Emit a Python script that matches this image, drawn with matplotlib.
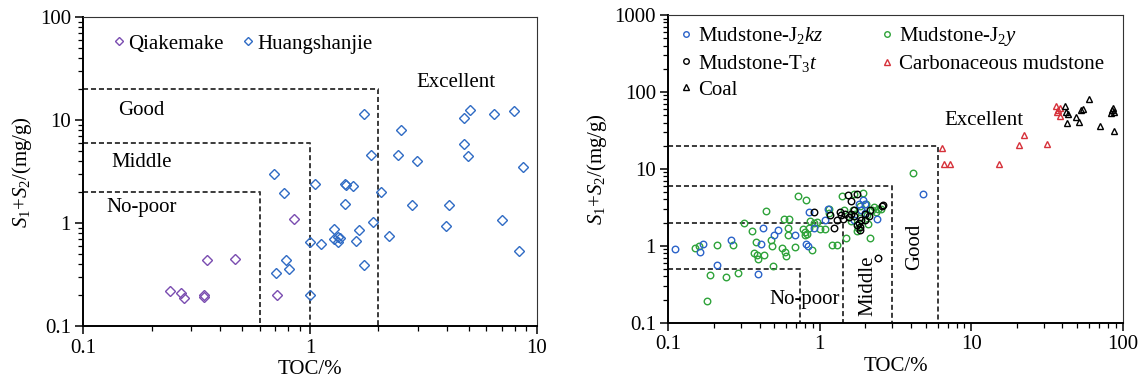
import numpy as np
import matplotlib
matplotlib.use('Agg')
import matplotlib.pyplot as plt
from matplotlib.ticker import LogLocator, FixedLocator, FixedFormatter, NullFormatter

plt.rcParams['font.family'] = ['Liberation Serif', 'DejaVu Serif']
plt.rcParams['mathtext.fontset'] = 'custom'
plt.rcParams['mathtext.rm'] = 'Liberation Serif'
plt.rcParams['mathtext.it'] = 'Liberation Serif:italic'

# ---- left panel data (TOC %, S1+S2 mg/g)
qiak_toc = [0.242, 0.27, 0.279, 0.34, 0.34, 0.351, 0.469, 0.714, 0.853]
qiak_s = [0.218, 0.208, 0.187, 0.2, 0.19, 0.435, 0.452, 0.2, 1.09]

huang_toc = [0.692, 0.771, 0.708, 0.787, 0.81, 1.0, 1.0, 1.05, 1.12, 1.28, 1.28, 1.33, 1.35,
             1.33, 1.42, 1.44, 1.55, 1.43, 1.60, 1.64, 1.73, 1.73, 1.86, 1.89, 2.06, 2.22,
             2.45, 2.53, 2.82, 2.96, 3.97, 4.1, 4.76, 4.78, 5.08, 4.99, 6.47, 7.03, 7.92, 8.32, 8.74]
huang_s = [2.99, 1.97, 0.328, 0.435, 0.358, 0.652, 0.2, 2.39, 0.633, 0.884, 0.706, 0.734, 0.72,
           0.652, 2.39, 2.34, 2.29, 1.55, 0.676, 0.865, 0.394, 11.5, 4.54, 1.03, 2.02, 0.756,
           4.57, 8.07, 1.5, 3.97, 0.946, 1.51, 5.89, 10.6, 12.5, 4.48, 11.4, 1.08, 12.2, 0.537, 3.52]

# ---- right panel data
j2kz_toc = [0.11, 0.161, 0.17, 0.21, 0.26, 0.39, 0.41, 0.42, 0.50, 0.53, 0.69, 0.81, 0.83, 0.855,
            0.92, 1.08, 1.14, 1.82, 1.92, 2.0, 1.87, 2.39, 4.82, 1.67, 1.98]
j2kz_s = [0.92, 0.83, 1.05, 0.56, 1.2, 0.435, 1.07, 1.71, 1.37, 1.62, 1.40, 1.05, 1.0, 2.79,
          1.72, 2.14, 3.0, 3.47, 3.9, 3.47, 2.9, 2.26, 4.68, 2.14, 2.63]

j2y_toc = [0.149, 0.160, 0.209, 0.179, 0.189, 0.24, 0.269, 0.289, 0.318, 0.358, 0.378, 0.367,
           0.385, 0.39, 0.43, 0.44, 0.49, 0.479, 0.483, 0.566, 0.578, 0.586, 0.595, 0.617, 0.617,
           0.63, 0.687, 0.72, 0.81, 0.776, 0.796, 0.796, 0.824, 0.845, 0.859, 0.889, 0.917, 0.959,
           1.01, 1.08, 1.15, 1.155, 1.21, 1.3, 1.41, 1.45, 1.49, 1.68, 1.92, 1.83, 2.02, 2.08,
           2.15, 2.28, 2.34, 2.42, 2.52, 4.13, 1.55, 1.7, 1.75, 1.8, 2.2, 1.6, 1.85, 2.05, 1.65]
j2y_s = [0.946, 0.985, 1.035, 0.19, 0.42, 0.39, 1.035, 0.44, 1.98, 1.56, 1.11, 0.81,
         0.75, 0.68, 0.75, 2.81, 0.54, 1.2, 0.985, 0.94, 2.21, 0.83, 0.73, 1.72, 1.40,
         2.21, 0.966, 4.45, 3.99, 1.67, 1.51, 1.37, 1.44, 1.72, 2.1, 0.87, 1.95, 2.04,
         1.67, 1.67, 3.05, 2.7, 1.03, 1.03, 4.45, 2.92, 1.28, 4.68, 4.87, 3.27, 3.54, 1.9,
         1.25, 3.2, 2.75, 3.01, 3.05, 8.87, 2.4, 2.6, 1.55, 1.7, 2.9, 2.1, 2.3, 2.5, 2.9]

t3t_toc = [0.92, 1.24, 1.16, 1.36, 1.38, 1.53, 1.77, 1.6, 1.3, 1.42, 1.55, 1.67, 1.82, 1.85,
           1.83, 1.75, 1.98, 2.1, 2.15, 2.57, 2.6, 2.43, 1.67, 1.46, 1.6, 1.98, 1.87]
t3t_s = [2.79, 1.69, 2.49, 2.79, 2.55, 4.64, 4.78, 3.8, 2.15, 2.25, 2.4, 2.47, 2.0, 1.77,
         1.6, 1.87, 2.14, 2.41, 2.91, 3.3, 3.4, 0.7, 2.96, 2.6, 2.6, 2.6, 2.15]

carb_toc = [6.4, 6.6, 7.2, 15.2, 20.6, 22.2, 31.6, 36.5, 37.3, 38.6, 37.0, 38.8]
carb_s = [18.8, 11.7, 11.5, 11.5, 20.3, 27.4, 20.9, 65.5, 59, 48.5, 55, 61]

coal_toc = [41.6, 42.3, 43.2, 42.8, 49.3, 51.3, 53.2, 55, 59.4, 71.2, 83.9, 85.2, 86.3, 87.2, 87.5]
coal_s = [65.5, 55.2, 51.4, 39.7, 46.6, 40.9, 58, 60.6, 80.7, 36.3, 52.5, 58, 61.2, 31.3, 55]

# grade boundaries (TOC limit, S1+S2 limit)
left_grades_toc = [0.6, 1.0, 2.0]
left_grades_s = [2, 6, 20]
right_grades_toc = [0.74, 1.43, 3.0, 6.0]
right_grades_s = [0.5, 2, 6, 20]

FS = 15
dash_kw = dict(color='#3a3a3a', lw=1.4, ls=(0, (2.6, 1.5)))


def style_axes(ax, xmax, ymax):
    ax.set_xscale('log')
    ax.set_yscale('log')
    ax.set_xlim(0.1, xmax)
    ax.set_ylim(0.1, ymax)
    xt = [10.0 ** k for k in range(-1, int(np.log10(xmax)) + 1)]
    yt = [10.0 ** k for k in range(-1, int(np.log10(ymax)) + 1)]
    ax.xaxis.set_major_locator(FixedLocator(xt))
    ax.xaxis.set_major_formatter(FixedFormatter([('%g' % v) for v in xt]))
    ax.yaxis.set_major_locator(FixedLocator(yt))
    ax.yaxis.set_major_formatter(FixedFormatter([('%g' % v) for v in yt]))
    for a in (ax.xaxis, ax.yaxis):
        a.set_minor_locator(LogLocator(base=10, subs=np.arange(2, 10)))
        a.set_minor_formatter(NullFormatter())
    ax.tick_params(which='major', direction='out', length=6, width=1.1, labelsize=FS, pad=3)
    ax.tick_params(which='minor', direction='out', length=3.5, width=0.9)
    ax.spines['left'].set_linewidth(1.4)
    ax.spines['bottom'].set_linewidth(1.4)
    for s in ('top', 'right'):
        ax.spines[s].set_linewidth(0.8)
        ax.spines[s].set_color('#333333')
    ax.set_xlabel('TOC/%', fontsize=FS, labelpad=2)
    ax.set_ylabel('$S_1$+$S_2$/(mg/g)', fontsize=FS, labelpad=4)


fig = plt.figure(figsize=(11.43, 3.83), dpi=100)
ax1 = fig.add_axes([0.0729, 0.1488, 0.3967, 0.806])
ax2 = fig.add_axes([0.5847, 0.1574, 0.3976, 0.8034])

# ---------- left
style_axes(ax1, 10, 100)
for t, s in zip(left_grades_toc, left_grades_s):
    ax1.plot([0.1, t, t], [s, s, 0.1], **dash_kw)
mk = dict(ls='none', marker='D', ms=5.0, mfc='none', mew=1.0)
ax1.plot(qiak_toc, qiak_s, color='#7a4cb0', label='Qiakemake', **mk)
ax1.plot(huang_toc, huang_s, color='#2f6bc4', label='Huangshanjie', **mk)
ax1.text(0.18, 12.4, 'Good', fontsize=FS, ha='center', va='center')
ax1.text(0.18, 3.88, 'Middle', fontsize=FS, ha='center', va='center')
ax1.text(0.18, 1.42, 'No-poor', fontsize=FS, ha='center', va='center')
ax1.text(4.4, 23.5, 'Excellent', fontsize=FS, ha='center', va='center')
ax1.legend(loc='center left', bbox_to_anchor=(0.064, 0.914), ncol=2, frameon=False,
           fontsize=FS, borderpad=0, borderaxespad=0, handlelength=0.6,
           handletextpad=0.15, columnspacing=0.9, markerscale=0.8)

# ---------- right
style_axes(ax2, 100, 1000)
for t, s in zip(right_grades_toc, right_grades_s):
    ax2.plot([0.1, t, t], [s, s, 0.1], **dash_kw)
ck = dict(ls='none', marker='o', ms=4.7, mfc='none', mew=1.0)
tk = dict(ls='none', marker='^', ms=4.9, mfc='none', mew=1.0)
ax2.plot(j2kz_toc, j2kz_s, color='#2b63c9', label='Mudstone-J$_2$$\\it{kz}$', zorder=3, **ck)
ax2.plot(t3t_toc, t3t_s, color='black', label='Mudstone-T$_3$$\\it{t}$', zorder=4, **ck)
ax2.plot(coal_toc, coal_s, color='black', label='Coal', zorder=4, **tk)
ax2.plot(j2y_toc, j2y_s, color='#2fa33a', label='Mudstone-J$_2$$\\it{y}$', zorder=2.5, **ck)
ax2.plot(carb_toc, carb_s, color='#d6313a', label='Carbonaceous mudstone', zorder=3, **tk)
ax2.text(12.2, 43, 'Excellent', fontsize=FS, ha='center', va='center')
ax2.text(0.8, 0.199, 'No-poor', fontsize=FS, ha='center', va='center')
ax2.text(2.09, 0.306, 'Middle', fontsize=FS, ha='center', va='center', rotation=90)
ax2.text(4.2, 0.97, 'Good', fontsize=FS, ha='center', va='center', rotation=90)
ax2.legend(loc='upper left', bbox_to_anchor=(0.025, 0.966), ncol=2, frameon=False,
           fontsize=FS, borderpad=0, borderaxespad=0, handlelength=0.6,
           handletextpad=0.3, columnspacing=2.7, labelspacing=0.3, markerscale=0.85)

fig.savefig('out.png', dpi=100)
